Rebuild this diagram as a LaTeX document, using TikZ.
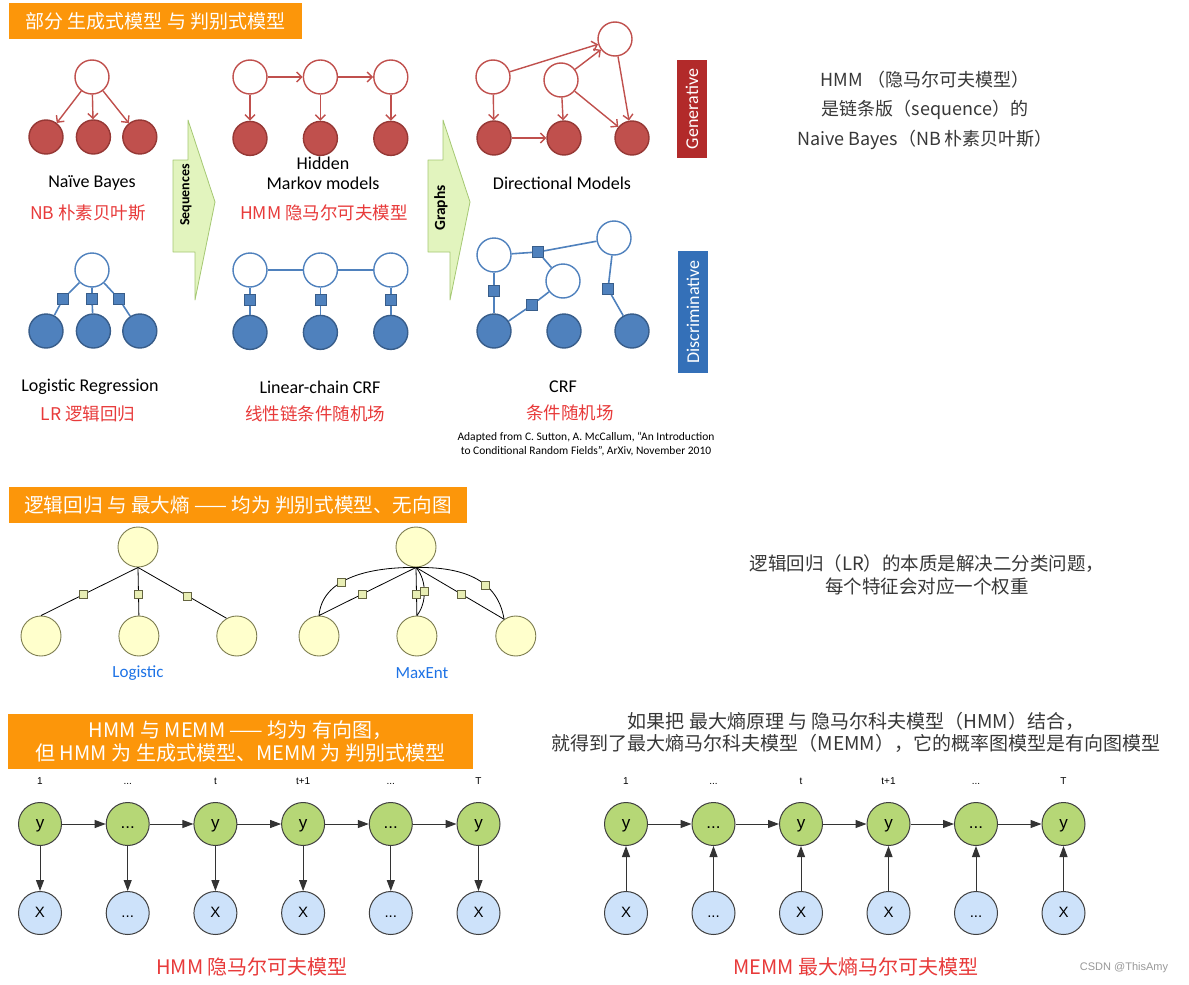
\documentclass[tikz,border=0pt]{standalone}
\usepackage{fontspec}
\setmainfont{Noto Sans CJK SC}
\newfontfamily\carlito{Carlito}
\newfontfamily\liber{Liberation Sans}
\usetikzlibrary{arrows.meta, positioning}

\definecolor{hdrorange}{RGB}{252,150,10}
\definecolor{genred}{RGB}{192,80,77}
\definecolor{gendark}{RGB}{150,56,53}
\definecolor{discblue}{RGB}{79,129,189}
\definecolor{discdark}{RGB}{56,93,138}
\definecolor{genbox}{RGB}{178,42,42}
\definecolor{discbox}{RGB}{52,112,184}
\definecolor{seqfill}{RGB}{226,244,190}
\definecolor{seqedge}{RGB}{165,200,115}
\definecolor{lblred}{RGB}{232,58,58}
\definecolor{txtgray}{RGB}{55,55,55}
\definecolor{entyellow}{RGB}{255,255,204}
\definecolor{entedge}{RGB}{125,125,80}
\definecolor{facfill}{RGB}{232,238,180}
\definecolor{entblue}{RGB}{30,115,230}
\definecolor{ygreen}{RGB}{182,215,118}
\definecolor{xblue}{RGB}{205,226,250}

\begin{document}
\begin{tikzpicture}[x=1pt, y=-1pt,
  node distance=35pt and 35pt,
  hdr/.style={rectangle, fill=hdrorange, text=white, align=center, inner sep=0pt,
              font=\fontsize{19}{23}\selectfont},
  hid/.style={circle, draw=genred, fill=white, line width=1.4pt,
              minimum size=34pt, inner sep=0pt},
  obs/.style={hid, draw=gendark, fill=genred},
  hidb/.style={hid, draw=discblue},
  obsb/.style={hid, draw=discdark, fill=discblue},
  facb/.style={rectangle, draw=discdark, fill=discblue, line width=0.8pt,
               minimum size=11pt, inner sep=0pt},
  rarr/.style={genred, line width=1.4pt, -{Straight Barb[length=5pt, width=10pt]}},
  bln/.style={discblue, line width=1.6pt},
  tag/.style={rectangle, text=white, minimum height=30pt, inner sep=0pt, rotate=90,
              font=\carlito\fontsize{18}{20}\selectfont},
  seqarr/.style={fill=seqfill, draw=seqedge, line width=0.8pt, line join=round},
  seqlbl/.style={rotate=90, inner sep=0pt, font=\carlito\bfseries\fontsize{14}{16}\selectfont},
  eng/.style={inner sep=0pt, font=\carlito\fontsize{18}{20}\selectfont},
  zh/.style={text=lblred, inner sep=0pt, font=\fontsize{17.5}{21}\selectfont},
  cite/.style={inner sep=0pt, align=center, font=\carlito\fontsize{11.5}{14}\selectfont},
  note/.style={text=txtgray, align=center, inner sep=0pt, font=\fontsize{18}{29.5}\selectfont},
  yel/.style={circle, draw=entedge, fill=entyellow, line width=0.9pt,
              minimum size=40pt, inner sep=0pt},
  fac/.style={rectangle, draw=entedge!80!black, fill=facfill, line width=0.7pt,
              minimum size=8pt, inner sep=0pt},
  kln/.style={black, line width=0.8pt},
  ent/.style={text=entblue, inner sep=0pt, font=\carlito\fontsize{17}{20}\selectfont},
  ynd/.style={circle, draw=black!75, fill=ygreen, line width=1pt, minimum size=43pt,
              inner sep=0pt, text height=11pt, text depth=2pt,
              font=\liber\fontsize{17}{20}\selectfont},
  xnd/.style={ynd, fill=xblue, font=\liber\fontsize{15}{18}\selectfont},
  tlb/.style={inner sep=0pt, text height=7pt, text depth=0pt,
              font=\liber\fontsize{10}{12}\selectfont},
  karr/.style={black!80, line width=1pt, -{Triangle[length=11pt, width=8pt]}}
]
\fill[white] (0,0) rectangle (1189,985);
\useasboundingbox (0,0) rectangle (1189,985);

%% part 1: generative vs discriminative
\node[hdr, minimum width=293pt, minimum height=36pt] (hdrA) at (155.5,21)
  {部分 生成式模型 与 判别式模型};

% naive bayes
\node[hid] (nbT) at (92,77) {};
\node[obs] (nb1) at (46,137) {};
\node[obs, right=12pt of nb1] (nb2) {};
\node[obs, right=11pt of nb2] (nb3) {};
\draw[rarr] (nbT) -- (nb1);
\draw[rarr] (nbT) -- (nb2);
\draw[rarr] (nbT) -- (nb3);

% hmm
\node[hid] (hm1) at (250,77) {};
\node[hid, right=of hm1] (hm2) {};
\node[hid, right=of hm2] (hm3) {};
\node[obs, below=26pt of hm1] (ho1) {};
\node[obs, below=26pt of hm2] (ho2) {};
\node[obs, below=26pt of hm3] (ho3) {};
\draw[rarr] (hm1) -- (hm2);
\draw[rarr] (hm2) -- (hm3);
\draw[rarr] (hm1) -- (ho1);
\draw[rarr] (hm2) -- (ho2);
\draw[rarr] (hm3) -- (ho3);

% directed graph
\node[hid] (dh1) at (493,77) {};
\node[hid] (dh2) at (561,80) {};
\node[hid] (dh3) at (615,39) {};
\node[obs] (do1) at (494,138) {};
\node[obs] (do2) at (564,138) {};
\node[obs] (do3) at (632,138) {};
\draw[rarr] (dh1) -- (dh3);
\draw[rarr] (dh2) -- (dh3);
\draw[rarr] (dh1) -- (do1);
\draw[rarr] (dh2) -- (do2);
\draw[rarr] (dh2) -- (do3);
\draw[rarr] (dh3) -- (do3);
\draw[rarr] (do1) -- (do2);

\node[eng] (nbName) at (92,183) {Naïve Bayes};
\node[zh] (nbZh) at (88,213) {NB 朴素贝叶斯};
\node[eng, align=center] (hmName) at (323,173) {Hidden\\Markov models};
\node[zh] (hmZh) at (324,213) {HMM 隐马尔可夫模型};
\node[eng] (dmName) at (562,183) {Directional Models};
\node[tag, fill=genbox, minimum width=98pt] (genTag) at (692,109) {Generative};

% big arrows
\draw[seqarr] (173,160) -- (188,160) -- (188,120) -- (215,202) -- (195,300)
  -- (195,252) -- (173,252) -- cycle;
\node[seqlbl] (seqTxt) at (186,195) {Sequences};
\draw[seqarr] (428,160) -- (443,160) -- (443,120) -- (470,202) -- (450,300)
  -- (450,252) -- (428,252) -- cycle;
\node[seqlbl, font=\carlito\bfseries\fontsize{15.5}{18}\selectfont] (grTxt) at (441,208) {Graphs};

% logistic regression
\node[hidb] (lrT) at (92,270) {};
\node[obsb] (lr1) at (46,331) {};
\node[obsb, right=12pt of lr1] (lr2) {};
\node[obsb, right=11pt of lr2] (lr3) {};
\node[facb] (lrf1) at (63,299) {};
\node[facb] (lrf2) at (92,299) {};
\node[facb] (lrf3) at (119,299) {};
\draw[bln] (lrT) -- (lrf1) -- (lr1);
\draw[bln] (lrT) -- (lrf2) -- (lr2);
\draw[bln] (lrT) -- (lrf3) -- (lr3);

% linear-chain crf
\node[hidb] (cw1) at (250,270) {};
\node[hidb, right=of cw1] (cw2) {};
\node[hidb, right=of cw2] (cw3) {};
\node[obsb, below=27pt of cw1] (co1) {};
\node[obsb, below=27pt of cw2] (co2) {};
\node[obsb, below=27pt of cw3] (co3) {};
\node[facb, below=6.5pt of cw1] (cf1) {};
\node[facb, below=6.5pt of cw2] (cf2) {};
\node[facb, below=6.5pt of cw3] (cf3) {};
\draw[bln] (cw1) -- (cw2) -- (cw3);
\draw[bln] (cw1) -- (cf1) -- (co1);
\draw[bln] (cw2) -- (cf2) -- (co2);
\draw[bln] (cw3) -- (cf3) -- (co3);

% general crf
\node[hidb] (gh1) at (494,255) {};
\node[hidb] (gh2) at (563,281) {};
\node[hidb] (gh3) at (614,238) {};
\node[obsb] (go1) at (494,331) {};
\node[obsb] (go2) at (564,331) {};
\node[obsb] (go3) at (632,331) {};
\node[facb] (gf1) at (538,252) {};
\node[facb] (gf2) at (494,291) {};
\node[facb] (gf3) at (532,305) {};
\node[facb] (gf4) at (608,289) {};
\draw[bln] (gh1) -- (gf1) -- (gh3);
\draw[bln] (gf1) -- (gh2);
\draw[bln] (gh1) -- (gf2) -- (go1);
\draw[bln] (gh2) -- (gf3) -- (go1);
\draw[bln] (gh3) -- (gf4) -- (go3);
\node[tag, fill=discbox, minimum width=122pt] (discTag) at (693,312) {Discriminative};

\node[eng] (lrName) at (90,387) {Logistic Regression};
\node[zh] (lrZh) at (88,414) {LR 逻辑回归};
\node[eng] (lcName) at (320,387) {Linear-chain CRF};
\node[zh] (lcZh) at (315,414) {线性链条件随机场};
\node[eng] (crfName) at (563,387) {CRF};
\node[zh] (crfZh) at (570,413) {条件随机场};
\node[cite] (src) at (586,444)
  {Adapted from C. Sutton, A. McCallum, “An Introduction\\to Conditional Random Fields”, ArXiv, November 2010};

\node[note] (hmmNote) at (925,110)
  {HMM （隐马尔可夫模型）\\是链条版（sequence）的\\Naive Bayes（NB 朴素贝叶斯）};

%% part 2: logistic vs maxent
\node[hdr, minimum width=458pt, minimum height=36pt, font=\fontsize{19.6}{23}\selectfont] (hdrB) at (238,505)
  {逻辑回归 与 最大熵 —— 均为 判别式模型、无向图};

\node[yel] (lgT) at (138,547) {};
\node[yel] (lg1) at (41,636) {};
\node[yel, right=57pt of lg1] (lg2) {};
\node[yel, right=57pt of lg2] (lg3) {};
\draw[kln] (lgT.south) -- node[fac, pos=0.56] (lgf1) {} (lg1.north);
\draw[kln] (lgT.south) -- node[fac, pos=0.56] (lgf2) {} (lg2.north);
\draw[kln] (lgT.south) -- node[fac, pos=0.56] (lgf3) {} (lg3.120);
\node[ent] (lgName) at (138,673) {Logistic};

\node[yel] (meT) at (416,547) {};
\node[yel] (me1) at (319,636) {};
\node[yel, right=57pt of me1] (me2) {};
\node[yel, right=58pt of me2] (me3) {};
\draw[kln] (meT.south) -- node[fac, pos=0.55] (mef2) {} (me1.north);
\draw[kln] (meT.south) -- node[fac, pos=0.55] (mef3) {} (me2.north);
\draw[kln] (meT.south) -- node[fac, pos=0.52] (mef5) {} (me3.125);
\draw[kln] (me1.north) .. controls (322,580) and (365,567) .. (meT.south)
  node[fac, pos=0.42] (mef1) {};
\draw[kln] (me2.north) .. controls (427,603) and (427,580) .. (meT.south)
  node[fac, pos=0.5] (mef4) {};
\draw[kln] (me3.125) .. controls (497,575) and (455,567) .. (meT.south)
  node[fac, pos=0.35] (mef6) {};
\node[ent] (meName) at (422,673) {MaxEnt};

\node[note, font=\fontsize{18.5}{23}\selectfont] (lrNote) at (927,575)
  {逻辑回归（LR）的本质是解决二分类问题，\\每个特征会对应一个权重};

%% part 3: hmm vs memm
\node[hdr, minimum width=465pt, minimum height=55pt, font=\fontsize{20}{22.5}\selectfont] (hdrC) at (240.5,741.5)
  {HMM 与 MEMM —— 均为 有向图，\\但 HMM 为 生成式模型、MEMM 为 判别式模型};

% hmm chain
\node[ynd] (hy1) at (40,824) {y};
\node[ynd, right=43.7pt of hy1] (hy2) {...};
\node[ynd, right=43.7pt of hy2] (hy3) {y};
\node[ynd, right=43.7pt of hy3] (hy4) {y};
\node[ynd, right=43.7pt of hy4] (hy5) {...};
\node[ynd, right=43.7pt of hy5] (hy6) {y};
\node[xnd, below=45pt of hy1] (hx1) {X};
\node[xnd, below=45pt of hy2] (hx2) {...};
\node[xnd, below=45pt of hy3] (hx3) {X};
\node[xnd, below=45pt of hy4] (hx4) {X};
\node[xnd, below=45pt of hy5] (hx5) {...};
\node[xnd, below=45pt of hy6] (hx6) {X};
\node[tlb] (ht1) at ([yshift=21pt]hy1.north) {1};
\node[tlb] (ht2) at ([yshift=21pt]hy2.north) {...};
\node[tlb] (ht3) at ([yshift=21pt]hy3.north) {t};
\node[tlb] (ht4) at ([yshift=21pt]hy4.north) {t+1};
\node[tlb] (ht5) at ([yshift=21pt]hy5.north) {...};
\node[tlb] (ht6) at ([yshift=21pt]hy6.north) {T};
\draw[karr] (hy1) -- (hy2);
\draw[karr] (hy2) -- (hy3);
\draw[karr] (hy3) -- (hy4);
\draw[karr] (hy4) -- (hy5);
\draw[karr] (hy5) -- (hy6);
\draw[karr] (hy1) -- (hx1);
\draw[karr] (hy2) -- (hx2);
\draw[karr] (hy3) -- (hx3);
\draw[karr] (hy4) -- (hx4);
\draw[karr] (hy5) -- (hx5);
\draw[karr] (hy6) -- (hx6);
\node[zh, font=\fontsize{20}{24}\selectfont] (hmmName) at (252,967) {HMM 隐马尔可夫模型};

% memm chain
\node[ynd] (my1) at (626,824) {y};
\node[ynd, right=43.5pt of my1] (my2) {...};
\node[ynd, right=43.5pt of my2] (my3) {y};
\node[ynd, right=43.5pt of my3] (my4) {y};
\node[ynd, right=43.5pt of my4] (my5) {...};
\node[ynd, right=43.5pt of my5] (my6) {y};
\node[xnd, below=45pt of my1] (mx1) {X};
\node[xnd, below=45pt of my2] (mx2) {...};
\node[xnd, below=45pt of my3] (mx3) {X};
\node[xnd, below=45pt of my4] (mx4) {X};
\node[xnd, below=45pt of my5] (mx5) {...};
\node[xnd, below=45pt of my6] (mx6) {X};
\node[tlb] (mt1) at ([yshift=21pt]my1.north) {1};
\node[tlb] (mt2) at ([yshift=21pt]my2.north) {...};
\node[tlb] (mt3) at ([yshift=21pt]my3.north) {t};
\node[tlb] (mt4) at ([yshift=21pt]my4.north) {t+1};
\node[tlb] (mt5) at ([yshift=21pt]my5.north) {...};
\node[tlb] (mt6) at ([yshift=21pt]my6.north) {T};
\draw[karr] (my1) -- (my2);
\draw[karr] (my2) -- (my3);
\draw[karr] (my3) -- (my4);
\draw[karr] (my4) -- (my5);
\draw[karr] (my5) -- (my6);
\draw[karr] (mx1) -- (my1);
\draw[karr] (mx2) -- (my2);
\draw[karr] (mx3) -- (my3);
\draw[karr] (mx4) -- (my4);
\draw[karr] (mx5) -- (my5);
\draw[karr] (mx6) -- (my6);
\node[zh, font=\fontsize{20}{24}\selectfont] (memmName) at (856,967) {MEMM 最大熵马尔可夫模型};

\node[note, font=\fontsize{19}{22}\selectfont] (memmNote) at (856,732)
  {如果把 最大熵原理 与 隐马尔科夫模型（HMM）结合，\\就得到了最大熵马尔科夫模型（MEMM），它的概率图模型是有向图模型};
\node[inner sep=0pt, text=black!40, font=\liber\fontsize{11}{13}\selectfont] (wm) at (1124,968) {CSDN @ThisAmy};
\end{tikzpicture}
\end{document}
